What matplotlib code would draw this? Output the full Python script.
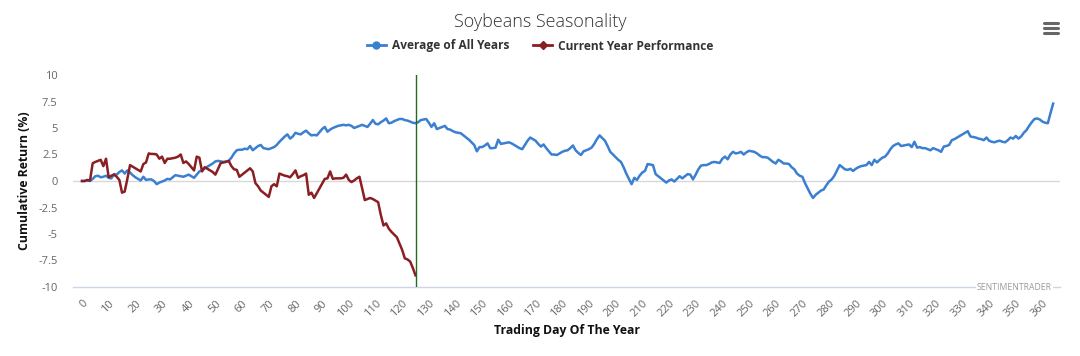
import matplotlib
matplotlib.use("Agg")
import matplotlib.pyplot as plt
from matplotlib.lines import Line2D

plt.rcParams['font.family'] = ['Open Sans', 'DejaVu Sans']

# ---------------- data ----------------
title = "Soybeans Seasonality"
series_names = ["Average of All Years", "Current Year Performance"]
x_label = "Trading Day Of The Year"
y_label = "Cumulative Return (%)"
current_day = 125
y_ticks = [-10, -7.5, -5, -2.5, 0, 2.5, 5, 7.5, 10]
y_tick_labels = ["-10", "-7.5", "-5", "-2.5", "0", "2.5", "5", "7.5", "10"]
x_ticks = list(range(0, 361, 10))

avg_all_years = [
    0, 0, 0.05, 0, 0.2, 0.45, 0.5, 0.35, 0.4, 0.5,
    0.3, 0.25, 0.65, 0.6, 0.85, 1.0, 0.7, 1.0, 0.8, 0.55,
    0.35, 0.2, 0.05, 0.4, 0.1, 0.15, 0.15, 0, -0.3, -0.15,
    -0.05, 0.05, 0.2, 0.15, 0.35, 0.55, 0.5, 0.45, 0.4, 0.5,
    0.6, 0.45, 0.3, 0.6, 0.9, 1.0, 1.2, 1.35, 1.5, 1.65,
    1.85, 1.9, 1.85, 1.8, 1.85, 1.9, 2.2, 2.6, 2.9, 2.95,
    2.95, 3.05, 3.0, 3.3, 2.9, 3.1, 3.3, 3.4, 3.1, 3.05,
    3.0, 3.1, 3.2, 3.4, 3.7, 3.95, 4.2, 4.4, 4.0, 4.2,
    4.55, 4.45, 4.4, 4.6, 4.75, 4.5, 4.3, 4.35, 4.3, 4.6,
    4.9, 5.1, 4.65, 4.85, 5.0, 5.1, 5.2, 5.25, 5.3, 5.25,
    5.3, 5.2, 5.0, 5.1, 5.2, 5.3, 5.2, 5.1, 5.4, 5.75,
    5.4, 5.35, 5.55, 5.7, 5.9, 5.45, 5.5, 5.65, 5.75, 5.85,
    5.85, 5.75, 5.7, 5.6, 5.5, 5.45, 5.55, 5.75, 5.8, 5.85,
    5.5, 5.1, 5.45, 4.9, 5.0, 5.1, 5.2, 4.9, 4.85, 4.7,
    4.6, 4.55, 4.5, 4.3, 4.1, 3.9, 3.65, 3.4, 2.8, 3.2,
    3.2, 3.35, 3.55, 3.1, 3.1, 3.15, 3.9, 3.5, 3.55, 3.6,
    3.65, 3.55, 3.4, 3.25, 3.1, 3.0, 3.4, 3.8, 4.1, 3.95,
    3.8, 3.5, 3.25, 3.45, 3.1, 2.8, 2.5, 2.5, 2.45, 2.6,
    2.75, 2.85, 2.9, 3.1, 3.35, 2.9, 2.65, 2.45, 2.8, 2.9,
    3.0, 3.15, 3.5, 3.95, 4.3, 4.05, 3.8, 3.3, 2.75, 2.5,
    2.25, 2.0, 1.8, 1.3, 0.7, 0.2, -0.3, 0.3, 0.1, 0.5,
    0.8, 0.95, 1.6, 1.55, 1.5, 0.65, 0.45, 0.25, 0.05, -0.15,
    0.05, 0.15, -0.05, 0.2, 0.45, 0.25, 0.45, 0.65, 0.6, 0.15,
    0.6, 1.1, 1.45, 1.5, 1.5, 1.6, 1.75, 1.8, 1.75, 1.7,
    2.1, 2.3, 2.05, 2.5, 2.75, 2.6, 2.65, 2.75, 2.5, 2.7,
    2.85, 2.8, 2.75, 2.6, 2.4, 2.25, 2.25, 2.2, 2.0, 1.8,
    1.65, 2.0, 1.85, 1.65, 1.65, 1.6, 1.3, 1.1, 0.7, 0.5,
    0.4, -0.2, -0.7, -1.2, -1.6, -1.3, -1.1, -0.9, -0.8, -0.4,
    -0.05, 0.15, 0.5, 1.0, 1.5, 1.3, 1.1, 1.05, 1.15, 0.95,
    1.15, 1.3, 1.4, 1.45, 1.5, 1.8, 1.5, 2.0, 1.75, 2.0,
    2.2, 2.3, 2.6, 3.0, 3.3, 3.45, 3.55, 3.3, 3.35, 3.4,
    3.45, 3.2, 3.7, 3.15, 3.2, 3.1, 3.1, 3.0, 2.9, 3.1,
    3.0, 2.9, 2.75, 3.25, 3.3, 3.4, 3.85, 3.95, 4.1, 4.25,
    4.4, 4.55, 4.7, 4.2, 4.15, 4.1, 4.0, 3.95, 3.85, 4.1,
    3.8, 3.7, 3.65, 3.75, 3.8, 3.7, 3.65, 3.85, 4.1, 4.0,
    4.25, 4.0, 4.2, 4.55, 4.8, 5.2, 5.55, 5.85, 5.9, 5.8,
    5.6, 5.5, 5.45, 6.4, 7.3,
]

current_year = [
    0, 0, 0.1, 0.05, 1.67, 1.8, 1.9, 2.0, 1.4, 2.1,
    0.35, 0.5, 0.6, 0.4, 0.1, -1.1, -1.0, 0.2, 1.5, 1.35,
    1.2, 1.05, 0.9, 1.6, 1.75, 2.6, 2.55, 2.55, 2.5, 2.1,
    2.3, 1.7, 2.1, 2.1, 2.15, 2.2, 2.3, 2.5, 1.7, 1.85,
    1.6, 1.3, 1.0, 2.3, 2.2, 0.9, 1.3, 1.15, 1.0, 0.85,
    0.6, 1.15, 1.7, 1.75, 1.8, 1.9, 1.4, 1.1, 1.05, 0.4,
    0.6, 0.8, 1.0, 1.2, 0.9, -0.2, -0.5, -0.9, -1.1, -1.3,
    -1.5, -0.5, -0.3, -0.5, 0.7, 0.6, 0.5, 0.45, 0.35, 0.65,
    1.0, 0.3, 0.45, 0.55, 0.7, -1.3, -1.1, -1.6, -1.15, -0.7,
    -0.25, 0.2, 0.25, 0.9, 0.2, 0.25, 0.25, 0.25, 0.3, 0.6,
    0.1, -0.1, 0.05, 0.25, 0.4, -0.7, -1.8, -1.7, -1.6, -1.7,
    -1.85, -2.0, -3.2, -4.2, -4.0, -4.5, -4.8, -5.05, -5.3, -5.9,
    -6.5, -7.3, -7.4, -7.6, -8.2, -8.9,
]

days_avg = list(range(len(avg_all_years)))
days_cur = list(range(len(current_year)))

# ---------------- styles ----------------
BLUE = "#3a7fd0"
RED = "#8b1e22"
GREEN = "#1f6b1f"
W, H = 1080, 356

fig = plt.figure(figsize=(W / 100, H / 100), dpi=100)
left, right, top, bottom = 73, 1060, 75, 287
ax = fig.add_axes([left / W, 1 - bottom / H, (right - left) / W, (bottom - top) / H])

ax.plot(days_avg, avg_all_years, color=BLUE, lw=1.8, solid_joinstyle="round", zorder=3)
ax.plot(days_cur, current_year, color=RED, lw=1.8, solid_joinstyle="round", zorder=4)
ax.axvline(current_day, color=GREEN, lw=1.0, zorder=5)
ax.axhline(0, color="#d8d8d8", lw=1.0, zorder=1)

ax.set_xlim((left - 82) / 2.668, (right - 82) / 2.668)
ax.set_ylim(-10, 10)

for s in ["top", "right", "left"]:
    ax.spines[s].set_visible(False)
ax.spines["bottom"].set_color("#ccd6eb")
ax.spines["bottom"].set_linewidth(1.0)

ax.set_yticks(y_ticks)
ax.set_yticklabels(y_tick_labels)
ax.set_xticks(x_ticks)
ax.set_xticklabels([str(t) for t in x_ticks], rotation=45, ha="right",
                   rotation_mode="anchor")
ax.tick_params(axis="both", length=0, labelsize=8, labelcolor="#666666")
ax.tick_params(axis="x", pad=8)
ax.tick_params(axis="y", pad=11)

ax.set_xlabel(x_label, fontsize=8.8, fontweight="bold", color="#111111", labelpad=3)
ax.set_ylabel(y_label, fontsize=8.8, fontweight="bold", color="#111111", labelpad=5)

fig.text(0.5, 1 - 22 / H, title, ha="center", va="center", fontsize=13,
         color="#333333", fontweight="light")

handles = [
    Line2D([], [], color=BLUE, lw=2, marker="o", markersize=5),
    Line2D([], [], color=RED, lw=2, marker="D", markersize=4),
]
fig.legend(handles, series_names, loc="center", bbox_to_anchor=(0.5, 1 - 46 / H),
           ncol=2, frameon=False, handlelength=1.6, handletextpad=0.5,
           columnspacing=2.0, prop={"size": 8.6, "weight": "bold"},
           labelcolor="#333333")

# watermark
ax.text((1052 - 82) / 2.668, -10, "SENTIMENTRADER", transform=ax.transData,
        ha="right", va="center", fontsize=6.2, color="#999999", zorder=6,
        bbox=dict(facecolor="white", edgecolor="none", pad=0.8))

# menu icon
for yy in (22.5, 27.5, 32.5):
    fig.add_artist(Line2D([1044 / W, 1058 / W], [1 - yy / H, 1 - yy / H],
                          color="#666666", lw=2.2, solid_capstyle="round"))

fig.savefig("out.png", dpi=100)
